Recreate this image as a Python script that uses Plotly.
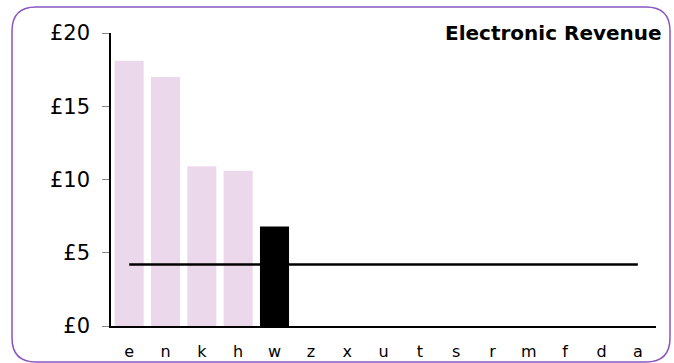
import plotly.graph_objects as go

categories = ["e", "n", "k", "h", "w", "z", "x", "u", "t", "s", "r", "m", "f", "d", "a"]
revenue = [18.1, 17.0, 10.9, 10.6, 6.8, 0, 0, 0, 0, 0, 0, 0, 0, 0, 0]
highlight = "w"
average = 4.2
y_ticks = [0, 5, 10, 15, 20]
y_labels = ["£0", "£5", "£10", "£15", "£20"]

colors = ["#000000" if c == highlight else "#ebd9eb" for c in categories]

fig = go.Figure()
fig.add_trace(go.Bar(x=categories, y=revenue, marker=dict(color=colors, line=dict(width=0)),
                     width=0.8, hoverinfo="skip"))
fig.add_trace(go.Scatter(x=categories, y=[average] * len(categories), mode="lines",
                         line=dict(color="#000000", width=2.5), hoverinfo="skip"))

W, H = 674, 363
ml, mr, mt, mb = 111, 18, 33, 37
pw, ph = W - ml - mr, H - mt - mb

def px(x):
    return (x - ml) / pw

def py(y):
    return (H - mb - y) / ph

x0, x1, y0, y1, r = 12, 670, 7, 362, 24
path = (f"M {px(x0 + r)} {py(y0)} L {px(x1 - r)} {py(y0)} "
        f"Q {px(x1)} {py(y0)} {px(x1)} {py(y0 + r)} L {px(x1)} {py(y1 - r)} "
        f"Q {px(x1)} {py(y1)} {px(x1 - r)} {py(y1)} L {px(x0 + r)} {py(y1)} "
        f"Q {px(x0)} {py(y1)} {px(x0)} {py(y1 - r)} L {px(x0)} {py(y0 + r)} "
        f"Q {px(x0)} {py(y0)} {px(x0 + r)} {py(y0)} Z")

fig.update_layout(
    width=W, height=H,
    margin=dict(l=ml, r=mr, t=mt, b=mb, autoexpand=False),
    paper_bgcolor="white", plot_bgcolor="white",
    showlegend=False,
    bargap=0.2,
    font=dict(family="Verdana, DejaVu Sans, sans-serif", color="#000000"),
    shapes=[dict(type="path", xref="paper", yref="paper", path=path,
                 line=dict(color="#8a55c0", width=1.5), fillcolor="rgba(0,0,0,0)", layer="below")],
    annotations=[dict(text="<b>Electronic Revenue</b>", xref="paper", yref="paper",
                      x=px(664), y=py(33), xanchor="right", yanchor="middle",
                      showarrow=False, font=dict(size=20, color="#000000"))],
)
fig.update_xaxes(type="category", range=[-0.5, 14.5], showline=True, linecolor="#000000", linewidth=1.5,
                 ticks="", showgrid=False, tickfont=dict(size=16), zeroline=False, automargin=False,
                 ticklabelstandoff=10)
fig.update_yaxes(range=[0, 20], tickvals=y_ticks, ticktext=y_labels, showline=True,
                 linecolor="#000000", linewidth=1.5, ticks="outside", ticklen=7, tickcolor="#888888",
                 showgrid=False, zeroline=False, tickfont=dict(size=21), automargin=False,
                 ticklabelstandoff=8)

fig.write_html("out.html", config={"displayModeBar": False},
               post_script="document.body.style.margin='0';document.body.style.overflow='hidden';")
